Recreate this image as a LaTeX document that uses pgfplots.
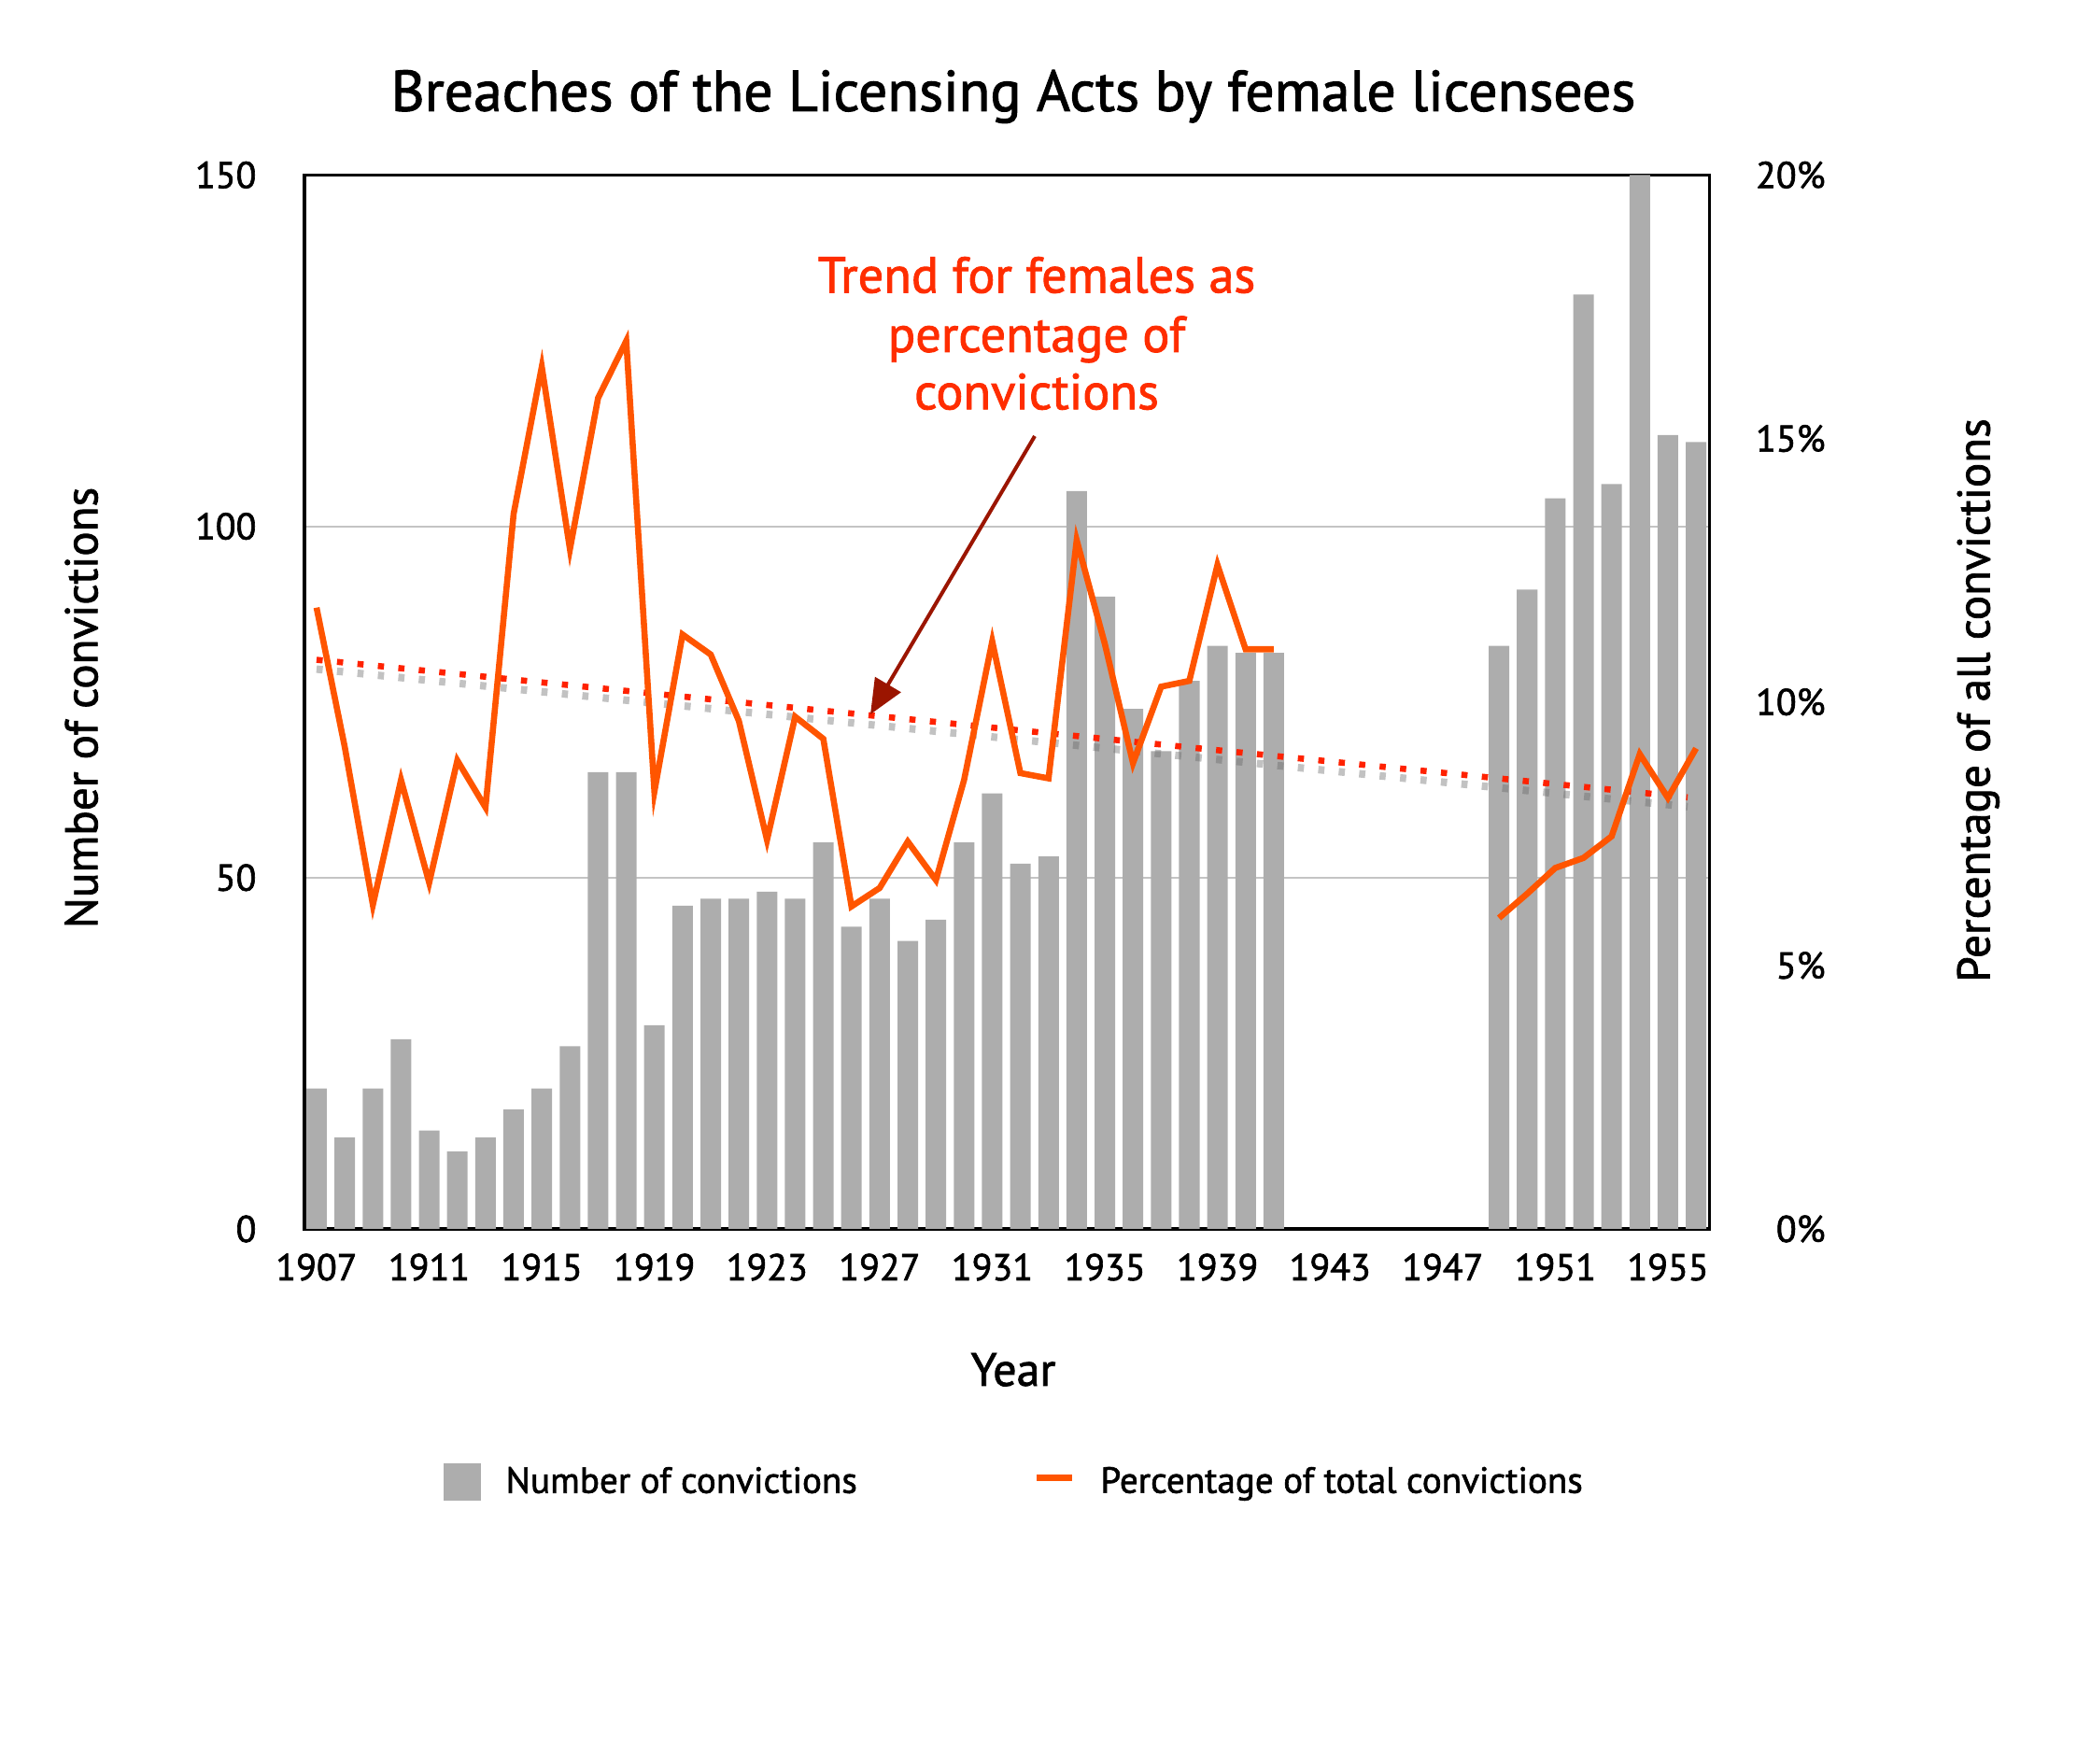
\documentclass[border=0pt]{standalone}
\usepackage{pgfplots}
\pgfplotsset{compat=1.18}
\usepackage{fontspec}
\setmainfont{PT Sans}[FakeBold=1.6]
\usetikzlibrary{arrows.meta}
\definecolor{barg}{HTML}{ADADAD}
\definecolor{lineor}{HTML}{FF5500}
\definecolor{trendred}{HTML}{FF2200}
\definecolor{annot}{HTML}{FF2D00}
\definecolor{arrowred}{HTML}{9B1500}
\definecolor{gridg}{HTML}{C4C4C4}
\begin{document}
\begin{tikzpicture}
\path[use as bounding box] (0,0) rectangle (783.65pt,660.8pt);
\pgfplotsset{
  base/.style={at={(114.1pt,200.2pt)}, anchor=south west, width=526.6pt, height=395pt,
    scale only axis, xmin=1906.57, xmax=1956.48, ymin=0,
    major tick length=0pt,
    axis line style={line width=1.2pt, black},
    tick label style={font=\fontsize{14}{16}\selectfont, inner sep=0pt}},
}
\begin{axis}[base, ymax=150,
  ytick={0,50,100,150}, yticklabels={0,50,100,150}, ytick pos=left,
  xtick={1907,1911,...,1955},
  xticklabels={1907,1911,1915,1919,1923,1927,1931,1935,1939,1943,1947,1951,1955},
  xtick pos=bottom,
  ymajorgrids, grid style={gridg, line width=0.7pt},
  xticklabel style={anchor=center, yshift=-14.35pt},
  yticklabel style={anchor=east, xshift=-17.85pt},
  legend style={at={(0.0984,-0.2401)}, anchor=west, draw=none, fill=none,
    legend columns=2, font=\fontsize{13.7}{16}\selectfont, inner sep=0pt,
    nodes={inner sep=0pt},
    /tikz/every odd column/.append style={column sep=9.45pt},
    /tikz/every even column/.append style={column sep=66pt}},
]
\addplot[ybar, bar width=0.73, fill=barg, draw=none,
  legend image code/.code={\fill[barg] (0pt,-7pt) rectangle (14pt,7pt);}]
coordinates {
(1907,20) (1908,13) (1909,20) (1910,27) (1911,14) (1912,11) (1913,13) (1914,17)
(1915,20) (1916,26) (1917,65) (1918,65) (1919,29) (1920,46) (1921,47) (1922,47)
(1923,48) (1924,47) (1925,55) (1926,43) (1927,47) (1928,41) (1929,44) (1930,55)
(1931,62) (1932,52) (1933,53) (1934,105) (1935,90) (1936,74) (1937,68) (1938,78)
(1939,83) (1940,82) (1941,82)
(1949,83) (1950,91) (1951,104) (1952,133) (1953,106) (1954,150) (1955,113) (1956,112)
};
\addlegendentry{Number of convictions}
\addlegendimage{legend image code/.code={\draw[lineor, line width=2.45pt] (0pt,1.4pt) -- (13.3pt,1.4pt);}}
\addlegendentry{Percentage of total convictions}
\end{axis}
\begin{axis}[base, ymax=20, axis x line=none, axis y line*=right,
  ytick={0,5,10,15,20}, yticklabels={0\%,5\%,10\%,15\%,20\%},
  yticklabel style={anchor=east, xshift=43.6pt},
]
\addplot[black!60, opacity=0.4, line width=2.8pt, dash pattern=on 2.3pt off 5.4pt, yshift=-3.5pt]
coordinates {(1907,10.8) (1955.7,8.19)};
\addplot[trendred, line width=2.3pt, dash pattern=on 2.3pt off 5.4pt]
coordinates {(1907,10.8) (1955.7,8.19)};
\addplot[lineor, line width=2.3pt, line join=miter] coordinates {
(1907,11.79) (1908,9.15) (1909,6.15) (1910,8.52) (1911,6.57) (1912,8.89) (1913,8.0)
(1914,13.57) (1915,16.36) (1916,12.9) (1917,15.77) (1918,16.85) (1919,8.3) (1920,11.28)
(1921,10.9) (1922,9.64) (1923,7.38) (1924,9.72) (1925,9.3) (1926,6.12) (1927,6.47)
(1928,7.35) (1929,6.62) (1930,8.52) (1931,11.15) (1932,8.65) (1933,8.55) (1934,13.07)
(1935,11.1) (1936,8.84) (1937,10.29) (1938,10.4) (1939,12.6) (1940,11.0) (1941,11.0)
};
\addplot[lineor, line width=2.3pt, line join=miter] coordinates {
(1949,5.9) (1950,6.36) (1951,6.85) (1952,7.04) (1953,7.45) (1954,9.01) (1955,8.18) (1956,9.12)
};
\end{axis}
\node[font=\fontsize{21.6}{26}\selectfont, anchor=base] at (379.75pt,619.2pt) {Breaches of the Licensing Acts by female licensees};
\node[font=\fontsize{17.2}{20}\selectfont, rotate=90] at (30.5pt,395.5pt) {Number of convictions};
\node[font=\fontsize{17.2}{20}\selectfont, rotate=90] at (741.4pt,398.3pt) {Percentage of all convictions};
\node[font=\fontsize{17.5}{20}\selectfont, anchor=base] at (379.75pt,141.4pt) {Year};
\node[annot, font=\fontsize{19}{22}\selectfont, anchor=base] at (388.5pt,551.1pt) {Trend for females as};
\node[annot, font=\fontsize{19}{22}\selectfont, anchor=base] at (388.5pt,528.9pt) {percentage of};
\node[annot, font=\fontsize{19}{22}\selectfont, anchor=base] at (388.5pt,507.4pt) {convictions};
\draw[arrowred, line width=1.4pt, -{Triangle[length=13pt,width=11pt]}] (387.8pt,497.35pt) -- (326.2pt,393.05pt);
\end{tikzpicture}
\end{document}
